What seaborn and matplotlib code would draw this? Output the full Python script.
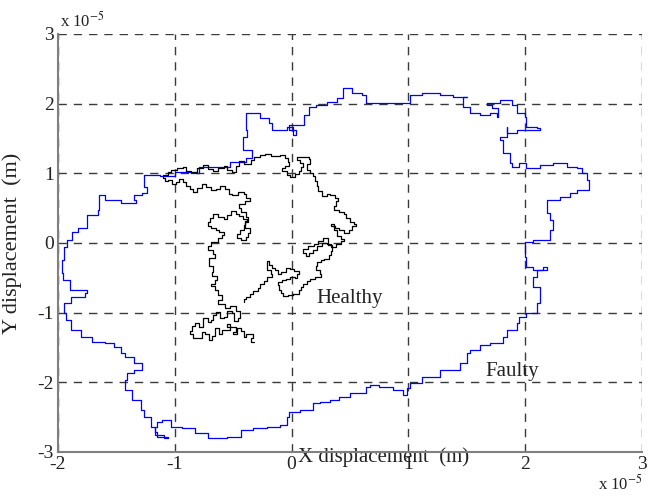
import numpy as np
import pandas as pd
import matplotlib
matplotlib.use("Agg")
import matplotlib.pyplot as plt
import seaborn as sns

# Values in units of 1e-5 m
faulty_x = [-1.26, -1.13, -1.00, -0.86, -0.79, -0.53, -0.39, -0.34, -0.42, -0.42, -0.38, -0.39, -0.27, -0.19,
            -0.17, -0.04, 0.01, 0.04, -0.02, 0.11, 0.15, 0.21, 0.30, 0.39, 0.44, 0.52, 0.60, 0.64, 0.75, 0.87,
            0.93, 1.01, 1.12, 1.27, 1.38, 1.50, 1.47, 1.53, 1.61, 1.70, 1.76, 1.77, 1.72, 1.67, 1.78, 1.84,
            1.89, 1.93, 2.00, 2.01, 2.10, 2.13, 2.01, 1.93, 1.84, 1.84, 1.78, 1.81, 1.87, 1.89, 1.95, 2.01,
            2.13, 2.24, 2.36, 2.44, 2.49, 2.53, 2.53, 2.55, 2.44, 2.38, 2.30, 2.19, 2.19, 2.21, 2.24, 2.21,
            2.07, 2.00, 2.00, 2.01, 2.07, 2.15, 2.19, 2.10, 2.07, 2.13, 2.13, 2.10, 2.01, 1.95, 1.93, 1.84,
            1.81, 1.70, 1.61, 1.53, 1.50, 1.44, 1.27, 1.12, 1.01, 0.99, 0.95, 0.87, 0.75, 0.67, 0.64, 0.50,
            0.41, 0.33, 0.24, 0.18, 0.07, -0.02, -0.04, -0.10, -0.21, -0.33, -0.43, -0.55, -0.66, -0.72,
            -0.83, -0.94, -1.03, -1.11, -1.15, -1.17, -1.15, -1.06, -1.09, -1.17, -1.20, -1.26, -1.29, -1.37,
            -1.43, -1.41, -1.35, -1.28, -1.35, -1.43, -1.46, -1.52, -1.60, -1.71, -1.80, -1.89, -1.93, -1.95,
            -1.89, -1.77, -1.75, -1.90, -1.90, -1.96, -1.97, -1.95, -1.92, -1.88, -1.83, -1.75, -1.75, -1.66,
            -1.65, -1.60, -1.46, -1.33, -1.35, -1.28, -1.24, -1.26]
faulty_y = [0.98, 0.96, 1.02, 1.00, 1.09, 1.16, 1.22, 1.33, 1.38, 1.52, 1.62, 1.87, 1.79, 1.72,
            1.62, 1.66, 1.55, 1.62, 1.69, 1.84, 1.95, 1.98, 2.02, 2.08, 2.22, 2.15, 2.12, 2.01, 2.01, 2.01,
            2.01, 2.12, 2.15, 2.12, 2.09, 2.09, 1.95, 1.87, 1.84, 1.87, 1.81, 1.94, 1.98, 2.01, 2.05, 2.05,
            1.98, 1.87, 1.81, 1.66, 1.65, 1.62, 1.62, 1.58, 1.66, 1.52, 1.48, 1.29, 1.15, 1.09, 1.15, 1.08,
            1.12, 1.15, 1.09, 1.08, 1.00, 0.95, 0.90, 0.76, 0.72, 0.66, 0.62, 0.57, 0.43, 0.33, 0.19, 0.04,
            0.01, -0.06, -0.20, -0.34, -0.39, -0.34, -0.39, -0.49, -0.63, -0.72, -0.86, -1.00, -1.06, -1.15, -1.25, -1.35,
            -1.43, -1.46, -1.54, -1.58, -1.72, -1.82, -1.92, -2.01, -2.08, -2.18, -2.11, -2.07, -2.04, -2.07, -2.15, -2.21,
            -2.25, -2.28, -2.30, -2.40, -2.42, -2.50, -2.61, -2.64, -2.65, -2.68, -2.78, -2.80, -2.80, -2.73,
            -2.65, -2.64, -2.54, -2.57, -2.64, -2.71, -2.78, -2.80, -2.75, -2.64, -2.50, -2.40, -2.25, -2.11,
            -1.97, -1.87, -1.82, -1.72, -1.64, -1.58, -1.49, -1.43, -1.42, -1.35, -1.25, -1.10, -1.00, -0.86,
            -0.77, -0.72, -0.67, -0.63, -0.53, -0.43, -0.24, -0.06, 0.04, 0.16, 0.22, 0.29, 0.40, 0.47,
            0.69, 0.62, 0.57, 0.62, 0.69, 0.72, 0.80, 0.98]

healthy_x = [-0.32, -0.35, -0.33, -0.39, -0.41, -0.43, -0.47, -0.50, -0.48, -0.55, -0.53, -0.60, -0.62, -0.66,
             -0.68, -0.71, -0.74, -0.77, -0.81, -0.84, -0.87, -0.85, -0.83, -0.79, -0.76, -0.72, -0.69, -0.67,
             -0.65, -0.61, -0.58, -0.55, -0.51, -0.49, -0.46, -0.44, -0.48, -0.53, -0.57, -0.63, -0.60, -0.63,
             -0.66, -0.69, -0.66, -0.64, -0.68, -0.67, -0.71, -0.71, -0.66, -0.67, -0.72, -0.69, -0.63, -0.60,
             -0.58, -0.62, -0.65, -0.69, -0.72, -0.70, -0.67, -0.63, -0.58, -0.55, -0.52, -0.48, -0.45, -0.42,
             -0.38, -0.40, -0.41, -0.44, -0.47, -0.43, -0.39, -0.37, -0.36, -0.40, -0.37, -0.39, -0.43, -0.45,
             -0.40, -0.36, -0.39, -0.41, -0.46, -0.51, -0.54, -0.57, -0.61, -0.65, -0.69, -0.73, -0.77, -0.81,
             -0.84, -0.87, -0.90, -0.93, -0.96, -0.99, -1.02, -1.06, -1.08, -1.10, -1.06, -1.03, -0.98, -0.93,
             -0.90, -0.86, -0.81, -0.76, -0.72, -0.67, -0.63, -0.58, -0.55, -0.51, -0.48, -0.45, -0.41, -0.38,
             -0.35, -0.32, -0.27, -0.23, -0.18, -0.14, -0.10, -0.06, -0.03, -0.02, -0.06, -0.08, -0.04, -0.01,
             0.03, 0.06, 0.08, 0.10, 0.07, 0.05, 0.10, 0.15, 0.16, 0.13, 0.16, 0.18, 0.20, 0.22, 0.23, 0.26,
             0.30, 0.33, 0.37, 0.40, 0.38, 0.36, 0.41, 0.45, 0.47, 0.50, 0.53, 0.55, 0.52, 0.49, 0.45, 0.41,
             0.37, 0.34, 0.36, 0.39, 0.42, 0.45, 0.42, 0.38, 0.34, 0.30, 0.26, 0.22, 0.18, 0.15, 0.12, 0.10,
             0.14, 0.19, 0.23, 0.27, 0.31, 0.35, 0.34, 0.32, 0.28, 0.25, 0.22, 0.21, 0.24, 0.25, 0.20, 0.16,
             0.13, 0.10, 0.08, 0.06, 0.01, -0.03, -0.07, -0.09, -0.11, -0.12, -0.08, -0.05, -0.01, 0.03, 0.05,
             0.06, 0.02, -0.01, -0.05, -0.09, -0.12, -0.14, -0.17, -0.19, -0.21, -0.21, -0.18, -0.17, -0.21,
             -0.24, -0.27, -0.29, -0.33, -0.36, -0.39, -0.41]
healthy_y = [-1.42, -1.36, -1.30, -1.35, -1.27, -1.22, -1.30, -1.28, -1.20, -1.16, -1.25, -1.31, -1.22, -1.33,
             -1.39, -1.30, -1.28, -1.37, -1.36, -1.30, -1.26, -1.19, -1.15, -1.20, -1.08, -1.14, -1.10, -1.03,
             -0.99, -1.08, -1.06, -0.98, -1.00, -1.12, -1.08, -0.98, -0.90, -0.94, -0.88, -0.82, -0.75, -0.67,
             -0.62, -0.59, -0.53, -0.47, -0.41, -0.33, -0.28, -0.22, -0.16, -0.10, -0.05, 0.01, 0.07, 0.12,
             0.16, 0.19, 0.22, 0.25, 0.30, 0.36, 0.42, 0.38, 0.34, 0.40, 0.46, 0.42, 0.39, 0.35,
             0.32, 0.26, 0.19, 0.13, 0.07, 0.05, 0.09, 0.15, 0.22, 0.30, 0.38, 0.44, 0.50, 0.56,
             0.60, 0.65, 0.70, 0.73, 0.69, 0.70, 0.77, 0.82, 0.78, 0.76, 0.81, 0.85, 0.79, 0.73,
             0.78, 0.82, 0.88, 0.92, 0.87, 0.85, 0.90, 0.89, 0.94, 0.98, 1.02, 1.05, 1.07, 1.09,
             1.04, 1.02, 1.08, 1.12, 1.06, 1.03, 1.08, 1.10, 1.05, 1.02, 1.10, 1.18, 1.14, 1.13,
             1.19, 1.23, 1.26, 1.28, 1.25, 1.25, 1.27, 1.22, 1.16, 1.10, 1.07, 1.03, 0.98, 0.95,
             0.99, 1.03, 1.09, 1.15, 1.19, 1.23, 1.24, 1.21, 1.13, 1.05, 1.00, 0.96, 0.89, 0.82, 0.74, 0.67,
             0.71, 0.69, 0.64, 0.60, 0.53, 0.47, 0.45, 0.42, 0.36, 0.30, 0.27, 0.24, 0.18, 0.14, 0.18, 0.22,
             0.25, 0.27, 0.19, 0.10, 0.06, 0.03, -0.02, -0.06, -0.02, 0.00, -0.05, -0.10, -0.15, -0.19, -0.14, -0.09,
             -0.04, -0.01, 0.03, 0.07, -0.03, -0.11, -0.17, -0.23, -0.25, -0.27, -0.33, -0.39, -0.44, -0.49, -0.52, -0.55,
             -0.59, -0.63, -0.68, -0.73, -0.75, -0.76, -0.72, -0.67, -0.61, -0.56, -0.53, -0.52, -0.49, -0.50, -0.45,
             -0.40, -0.37, -0.36, -0.41, -0.44, -0.39, -0.36, -0.31, -0.26, -0.32, -0.39, -0.44, -0.49, -0.54,
             -0.59, -0.64, -0.69, -0.73, -0.77, -0.81, -0.85]

x_ticks = [-2, -1, 0, 1, 2, 3]
y_ticks = [-3, -2, -1, 0, 1, 2, 3]

df = pd.concat([
    pd.DataFrame({"x": faulty_x, "y": faulty_y, "cond": "Faulty"}),
    pd.DataFrame({"x": healthy_x, "y": healthy_y, "cond": "Healthy"}),
], ignore_index=True)

sns.set_style("white")
plt.rcParams["font.family"] = ["Liberation Serif", "DejaVu Serif"]
plt.rcParams["mathtext.fontset"] = "stix"

fig = plt.figure(figsize=(6.49, 4.97), dpi=100)
ax = fig.add_axes([58 / 649, 1 - 452 / 497, (642 - 58) / 649, (452 - 34) / 497])

sns.lineplot(data=df, x="x", y="y", hue="cond", hue_order=["Faulty", "Healthy"],
             palette={"Faulty": "#0000ff", "Healthy": "#000000"}, sort=False, estimator=None,
             units="cond", linewidth=0.9, legend=False, drawstyle="steps-post", ax=ax)

ax.set_xlim(-2, 3)
ax.set_ylim(-3, 3)
ax.set_xticks(x_ticks)
ax.set_yticks(y_ticks)
ax.set_xticklabels([str(t) for t in x_ticks])
ax.set_yticklabels([str(t) for t in y_ticks])
ax.grid(True, linestyle=(0, (6, 5)), color="#3a3a3a", linewidth=1.0)
ax.set_axisbelow(True)
for s in ["top", "right"]:
    ax.spines[s].set_visible(False)
for s in ["left", "bottom"]:
    ax.spines[s].set_color("#808080")
    ax.spines[s].set_linewidth(1.5)
ax.tick_params(direction="in", length=5, width=1, color="#808080", labelsize=14,
               labelcolor="#222222", pad=3)

ax.set_xlabel("X displacement  (m)", fontsize=15, color="#222222")
ax.set_ylabel("Y displacement  (m)", fontsize=16, color="#222222")
ax.xaxis.set_label_coords((384 - 58) / 584, 0.012)
ax.yaxis.set_label_coords(-0.062, 0.5)

ax.text(0.21, -0.79, "Healthy", fontsize=15, color="#222222", va="center", ha="left")
ax.text(1.66, -1.84, "Faulty", fontsize=15, color="#222222", va="center", ha="left")

fig.text(60 / 649, 1 - 27 / 497, r"x 10$^{-5}$", fontsize=12, color="#222222", ha="left", va="baseline")
fig.text(598 / 649, 1 - 490 / 497, r"x 10$^{-5}$", fontsize=12, color="#222222", ha="left", va="baseline")

fig.savefig("out.png", dpi=100)
